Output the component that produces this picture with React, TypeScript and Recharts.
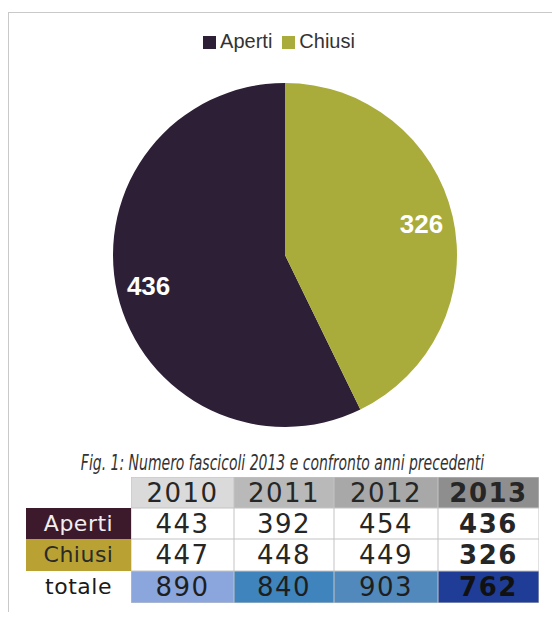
import { PieChart, Pie, Cell, Legend } from "recharts";

// ----- Data -----
const years = ["2010", "2011", "2012", "2013"];
const aperti = [443, 392, 454, 436];
const chiusi = [447, 448, 449, 326];
const totale = [890, 840, 903, 762];

const pieNames = ["Aperti", "Chiusi"];
const pieValues = [aperti[3], chiusi[3]];
const pieData = pieNames.map((name, i) => ({ name, value: pieValues[i] }));

// ----- Styles -----
const PIE_COLORS = ["#2d1f35", "#a9ab3b"];
const HEADER_BG = ["#dadada", "#b9b9b9", "#a8a8a8", "#8e8e8e"];
const TOTAL_BG = ["#8ba6dc", "#3f84bc", "#5189bd", "#1f3d96"];
const LABEL_BG = { Aperti: "#3c1a2b", Chiusi: "#b9a233" };
const COL_W = [105, 103, 100, 104, 101];
const ROW_H = [31, 31, 32, 32];
const GOTHIC = '"DejaVu Sans", sans-serif';
const RADIAN = Math.PI / 180;

function SliceLabel({ cx, cy, midAngle, value }: any) {
  const r = 140;
  const x = cx + r * Math.cos(-midAngle * RADIAN);
  const y = cy + r * Math.sin(-midAngle * RADIAN);
  return (
    <text
      x={x}
      y={y}
      fill="#fff"
      textAnchor="middle"
      dominantBaseline="central"
      style={{ fontFamily: '"Liberation Sans", Arial, sans-serif', fontSize: 26, fontWeight: 700 }}
    >
      {value}
    </text>
  );
}

function cell(content: any, bg: string, opts: any = {}) {
  return {
    content,
    bg,
    ...opts,
  };
}

export default function App() {
  const rows = [
    [
      cell("", "transparent", { bare: true }),
      ...years.map((y, i) => cell(y, HEADER_BG[i], { bold: i === 3 })),
    ],
    [
      cell("Aperti", LABEL_BG.Aperti, { label: true, color: "#f2eef0" }),
      ...aperti.map((v, i) => cell(v, "#ffffff", { bold: i === 3 })),
    ],
    [
      cell("Chiusi", LABEL_BG.Chiusi, { label: true, color: "#2a2a2a" }),
      ...chiusi.map((v, i) => cell(v, "#ffffff", { bold: i === 3 })),
    ],
    [
      cell("totale", "transparent", { label: true, bare: true, color: "#1a1a1a" }),
      ...totale.map((v, i) => cell(v, TOTAL_BG[i], { bold: i === 3, color: i === 3 ? "#111" : "#1e1e1e" })),
    ],
  ];

  return (
    <div style={{ position: "relative", width: 552, height: 604, overflow: "hidden", background: "#fff" }}>
      {/* outer frame */}
      <div
        style={{
          position: "absolute",
          left: 0,
          top: 4,
          width: 600,
          height: 640,
          borderLeft: "1px solid #c9c9c9",
          borderTop: "1px solid #c9c9c9",
        }}
      />

      <div style={{ position: "absolute", left: 0, top: 0 }}>
        <PieChart width={552} height={440}>
          <Legend
            verticalAlign="top"
            iconType="square"
            iconSize={13}
            wrapperStyle={{
              top: 22,
              fontFamily: '"Liberation Sans", Arial, sans-serif',
              fontSize: 20,
            }}
            formatter={(v: string) => <span style={{ color: "#333" }}>{v}</span>}
          />
          <Pie
            data={pieData}
            dataKey="value"
            nameKey="name"
            cx={272}
            cy={219}
            outerRadius={172}
            startAngle={90}
            endAngle={450}
            stroke="none"
            labelLine={false}
            label={SliceLabel}
            isAnimationActive={false}
          >
            {pieData.map((d, i) => (
              <Cell key={d.name} fill={PIE_COLORS[i]} />
            ))}
          </Pie>
        </PieChart>
      </div>

      {/* caption */}
      <div
        style={{
          position: "absolute",
          left: 0,
          top: 442,
          width: 552,
          textAlign: "center",
        }}
      >
        <span
          style={{
            display: "inline-block",
            whiteSpace: "nowrap",
            fontFamily: '"DejaVu Sans Condensed", "DejaVu Sans", sans-serif',
            fontStretch: "condensed",
            fontStyle: "italic",
            fontSize: 21,
            lineHeight: "26px",
            color: "#333",
            transform: "translateX(-1px) scaleX(0.74)",
            transformOrigin: "center",
          }}
        >
          Fig. 1: Numero fascicoli 2013 e confronto anni precedenti
        </span>
      </div>

      {/* table */}
      <div
        style={{
          position: "absolute",
          left: 18,
          top: 469,
          display: "grid",
          gridTemplateColumns: COL_W.map((w) => `${w}px`).join(" "),
          gridTemplateRows: ROW_H.map((h) => `${h}px`).join(" "),
        }}
      >
        {rows.map((r, ri) =>
          r.map((c: any, ci: number) => (
            <div
              key={`${ri}-${ci}`}
              style={{
                background: c.bg,
                display: "flex",
                alignItems: "center",
                justifyContent: "center",
                boxSizing: "border-box",
                boxShadow: c.bare || c.label ? "none" : "inset 0 0 0 0.5px #c4c4c4",
                fontFamily: GOTHIC,
                fontSize: c.label ? 22 : 26,
                fontWeight: c.bold ? 700 : 400,
                letterSpacing: c.label ? 0.5 : 1.5,
                color: c.color || "#262626",
                lineHeight: 1,
              }}
            >
              {c.content}
            </div>
          ))
        )}
      </div>
    </div>
  );
}
